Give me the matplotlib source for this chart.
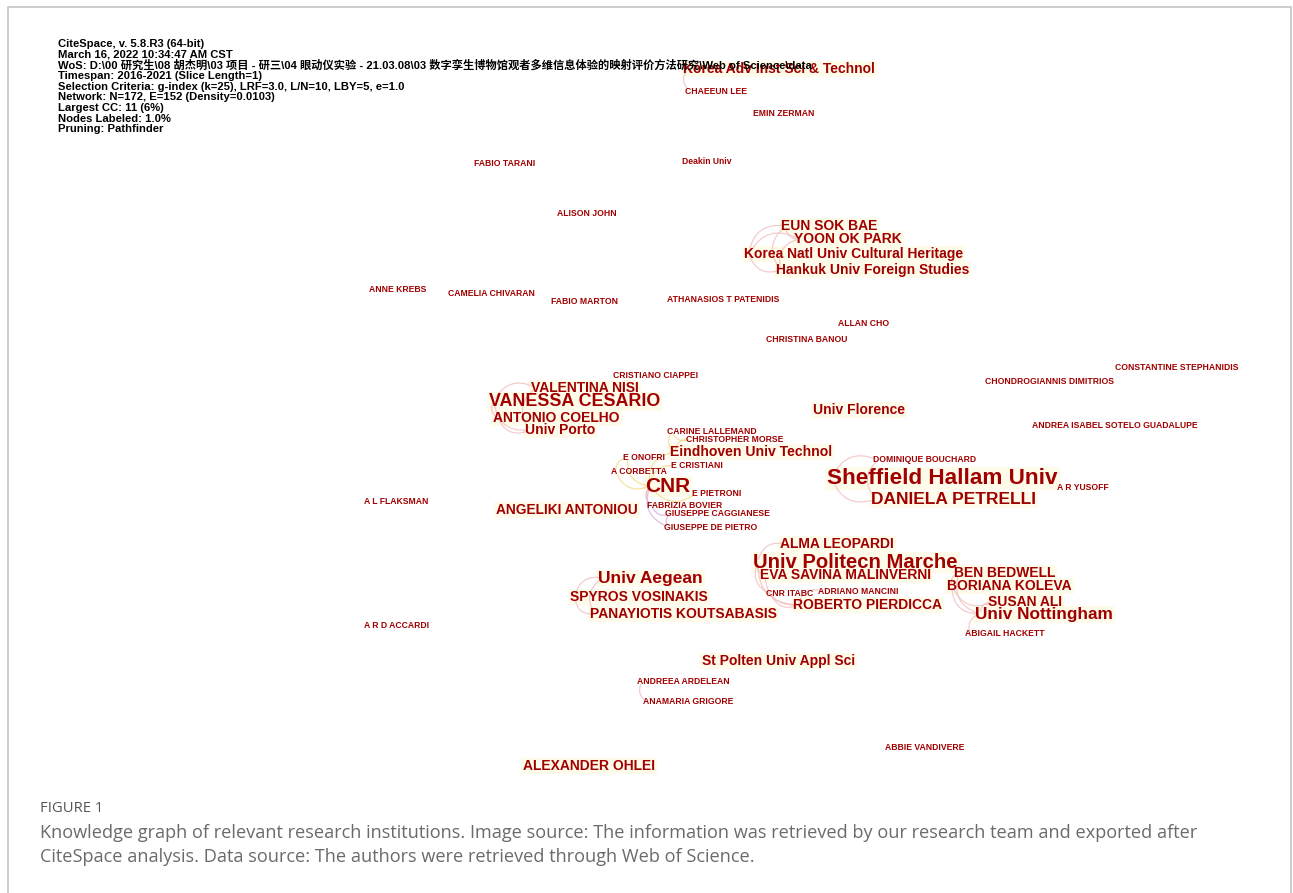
import matplotlib.pyplot as plt
from matplotlib.patches import FancyArrowPatch, Rectangle

# label names, left x, centre y (pixel space of the 1293x893 canvas), label size (pt)
names = [
    "Korea Adv Inst Sci & Technol", "CHAEEUN LEE", "EMIN ZERMAN", "FABIO TARANI",
    "Deakin Univ", "ALISON JOHN", "EUN SOK BAE", "YOON OK PARK",
    "Korea Natl Univ Cultural Heritage", "Hankuk Univ Foreign Studies", "ANNE KREBS",
    "CAMELIA CHIVARAN", "FABIO MARTON", "ATHANASIOS T PATENIDIS", "ALLAN CHO",
    "CHRISTINA BANOU", "CRISTIANO CIAPPEI", "CONSTANTINE STEPHANIDIS",
    "CHONDROGIANNIS DIMITRIOS", "VALENTINA NISI", "VANESSA CESARIO", "Univ Florence",
    "ANTONIO COELHO", "Univ Porto", "ANDREA ISABEL SOTELO GUADALUPE", "CARINE LALLEMAND",
    "CHRISTOPHER MORSE", "Eindhoven Univ Technol", "E ONOFRI", "DOMINIQUE BOUCHARD",
    "E CRISTIANI", "A CORBETTA", "Sheffield Hallam Univ", "CNR", "A R YUSOFF",
    "E PIETRONI", "A L FLAKSMAN", "DANIELA PETRELLI", "ANGELIKI ANTONIOU",
    "FABRIZIA BOVIER", "GIUSEPPE CAGGIANESE", "GIUSEPPE DE PIETRO", "ALMA LEOPARDI",
    "Univ Politecn Marche", "EVA SAVINA MALINVERNI", "BEN BEDWELL", "Univ Aegean",
    "BORIANA KOLEVA", "CNR ITABC", "ADRIANO MANCINI", "SPYROS VOSINAKIS", "SUSAN ALI",
    "ROBERTO PIERDICCA", "Univ Nottingham", "PANAYIOTIS KOUTSABASIS", "A R D ACCARDI",
    "ABIGAIL HACKETT", "St Polten Univ Appl Sci", "ANDREEA ARDELEAN",
    "ANAMARIA GRIGORE", "ABBIE VANDIVERE", "ALEXANDER OHLEI",
]
xs = [683, 685, 753, 474, 682, 557, 781, 794, 744, 776, 369, 448, 551, 667, 838,
      766, 613, 1115, 985, 531, 489, 813, 493, 525, 1032, 667, 686, 670, 623, 873,
      671, 611, 827, 645, 1057, 692, 364, 871, 496, 647, 665, 664, 780, 753, 760,
      954, 598, 947, 766, 818, 570, 988, 793, 975, 590, 364, 965, 702, 637, 643,
      885, 523]
ys = [69, 91, 113, 163, 162, 214, 226, 239, 254, 270, 290, 294, 302, 300, 324,
      340, 375, 368, 381, 388, 401, 410, 418, 430, 426, 432, 439, 452, 458, 460,
      466, 472, 478, 486, 488, 493, 502, 499, 510, 506, 514, 527, 544, 562, 575,
      573, 578, 586, 594, 591, 597, 602, 605, 614, 614, 626, 633, 661, 682, 702,
      747, 766]
sizes = [10.0, 6.2, 6.2, 6.2, 6.2, 6.2, 10.0, 10.0, 10.0, 10.0, 6.2, 6.2, 6.2, 6.2, 6.2,
         6.2, 6.2, 6.2, 6.2, 10.0, 12.9, 10.0, 10.0, 10.0, 6.2, 6.2, 6.2, 10.1, 6.2, 6.2,
         6.2, 6.2, 16.2, 15.0, 6.2, 6.2, 6.2, 12.5, 9.9, 6.2, 6.2, 6.2, 10.0, 14.6, 10.0,
         10.0, 12.5, 10.0, 6.2, 6.2, 10.0, 10.0, 10.0, 12.4, 10.0, 6.2, 6.2, 10.0, 6.2, 6.2,
         6.2, 10.0]

# links between nodes (CiteSpace collaboration arcs)
edges = [
    ("Korea Adv Inst Sci & Technol", "CHAEEUN LEE", "pink"),
    ("EUN SOK BAE", "YOON OK PARK", "pink"),
    ("EUN SOK BAE", "Korea Natl Univ Cultural Heritage", "pink"),
    ("EUN SOK BAE", "Hankuk Univ Foreign Studies", "pink"),
    ("YOON OK PARK", "Korea Natl Univ Cultural Heritage", "pink"),
    ("YOON OK PARK", "Hankuk Univ Foreign Studies", "pink"),
    ("Korea Natl Univ Cultural Heritage", "Hankuk Univ Foreign Studies", "pink"),
    ("VALENTINA NISI", "VANESSA CESARIO", "pink"),
    ("VANESSA CESARIO", "ANTONIO COELHO", "pink"),
    ("VANESSA CESARIO", "Univ Porto", "pink"),
    ("ANTONIO COELHO", "Univ Porto", "pink"),
    ("VALENTINA NISI", "Univ Porto", "pink"),
    ("E ONOFRI", "CNR", "yellow"),
    ("A CORBETTA", "CNR", "yellow"),
    ("E CRISTIANI", "CNR", "yellow"),
    ("E ONOFRI", "A CORBETTA", "yellow"),
    ("Eindhoven Univ Technol", "CNR", "yellow"),
    ("CARINE LALLEMAND", "Eindhoven Univ Technol", "yellow"),
    ("CHRISTOPHER MORSE", "Eindhoven Univ Technol", "yellow"),
    ("CARINE LALLEMAND", "CHRISTOPHER MORSE", "yellow"),
    ("CNR", "E PIETRONI", "yellow"),
    ("CNR", "FABRIZIA BOVIER", "purple"),
    ("FABRIZIA BOVIER", "GIUSEPPE CAGGIANESE", "purple"),
    ("CNR", "GIUSEPPE DE PIETRO", "purple"),
    ("GIUSEPPE CAGGIANESE", "GIUSEPPE DE PIETRO", "purple"),
    ("DOMINIQUE BOUCHARD", "Sheffield Hallam Univ", "pink"),
    ("Sheffield Hallam Univ", "DANIELA PETRELLI", "pink"),
    ("DOMINIQUE BOUCHARD", "DANIELA PETRELLI", "pink"),
    ("ALMA LEOPARDI", "Univ Politecn Marche", "pink"),
    ("Univ Politecn Marche", "EVA SAVINA MALINVERNI", "pink"),
    ("Univ Politecn Marche", "CNR ITABC", "pink"),
    ("Univ Politecn Marche", "ROBERTO PIERDICCA", "pink"),
    ("EVA SAVINA MALINVERNI", "ROBERTO PIERDICCA", "pink"),
    ("CNR ITABC", "ROBERTO PIERDICCA", "pink"),
    ("ADRIANO MANCINI", "ROBERTO PIERDICCA", "pink"),
    ("BEN BEDWELL", "BORIANA KOLEVA", "pink"),
    ("BEN BEDWELL", "Univ Nottingham", "pink"),
    ("BORIANA KOLEVA", "SUSAN ALI", "pink"),
    ("BORIANA KOLEVA", "Univ Nottingham", "pink"),
    ("SUSAN ALI", "Univ Nottingham", "pink"),
    ("Univ Nottingham", "ABIGAIL HACKETT", "pink"),
    ("Univ Aegean", "SPYROS VOSINAKIS", "pink"),
    ("SPYROS VOSINAKIS", "PANAYIOTIS KOUTSABASIS", "pink"),
    ("Univ Aegean", "PANAYIOTIS KOUTSABASIS", "pink"),
    ("ANDREEA ARDELEAN", "ANAMARIA GRIGORE", "pink"),
]

header = [
    "CiteSpace, v. 5.8.R3 (64-bit)",
    "March 16, 2022 10:34:47 AM CST",
    "WoS: D:\\00 研究生\\08 胡杰明\\03 项目 - 研三\\04 眼动仪实验 - 21.03.08\\03 "
    "数字孪生博物馆观者多维信息体验的映射评价方法研究\\Web of Science\\data",
    "Timespan: 2016-2021 (Slice Length=1)",
    "Selection Criteria: g-index (k=25), LRF=3.0, L/N=10, LBY=5, e=1.0",
    "Network: N=172, E=152 (Density=0.0103)",
    "Largest CC: 11 (6%)",
    "Nodes Labeled: 1.0%",
    "Pruning: Pathfinder",
]

caption_title = "FIGURE 1"
caption = ("Knowledge graph of relevant research institutions. Image source: The information "
           "was retrieved by our research team and exported after\nCiteSpace analysis. "
           "Data source: The authors were retrieved through Web of Science.")

edge_col = {"pink": "#f0bcbc", "yellow": "#f0dc80", "purple": "#d6a8dc"}

W, H = 1293, 893
fig = plt.figure(figsize=(W / 100, H / 100), dpi=100)
ax = fig.add_axes([0, 0, 1, 1])
ax.set_xlim(0, W)
ax.set_ylim(H, 0)
ax.axis("off")

# outer grey frame (open at the bottom)
ax.plot([8, 8, 1291, 1291], [H, 7, 7, H], color="#c4c4c4", lw=1.2)

pos = {n: (x, y) for n, x, y in zip(names, xs, ys)}

labels = []
for n, x, y, s in zip(names, xs, ys, sizes):
    t = ax.text(x, y, n, ha="left", va="center", fontsize=s, fontweight="bold",
                color="#a00000", family="Liberation Sans", zorder=3)
    labels.append((t, s))

# cream backgrounds behind the bigger labels
fig.canvas.draw()
rend = fig.canvas.get_renderer()
inv = ax.transData.inverted()
for t, s in labels:
    if s > 7:
        bb = t.get_window_extent(rend)
        (x0, y0), (x1, y1) = inv.transform([[bb.x0, bb.y0], [bb.x1, bb.y1]])
        ax.add_patch(Rectangle((x0 - 2, min(y0, y1) - 1), x1 - x0 + 4, abs(y1 - y0) + 2,
                               fc="#fffbea", ec="none", zorder=1))

for a, b, c in edges:
    p1, p2 = sorted([pos[a], pos[b]], key=lambda p: p[1])
    arc = FancyArrowPatch((p1[0] + 5, p1[1]), (p2[0] + 5, p2[1]), arrowstyle="-",
                          connectionstyle="arc3,rad=0.5", color=edge_col[c],
                          lw=0.9, alpha=0.75, zorder=2)
    ax.add_patch(arc)

for i, line in enumerate(header):
    ax.text(58, 44 + i * 10.65, line, ha="left", va="center", fontsize=8.1,
            fontweight="bold", color="black",
            family=["Liberation Sans", "Noto Sans CJK SC"], zorder=5)

ax.text(40, 808, caption_title, ha="left", va="center", fontsize=10.6,
        color="#555555", family="Open Sans")
ax.text(40, 845, caption, ha="left", va="center", fontsize=13.1,
        color="#6a6a6a", family="Open Sans", linespacing=1.42)

fig.savefig("out.png", dpi=100)
